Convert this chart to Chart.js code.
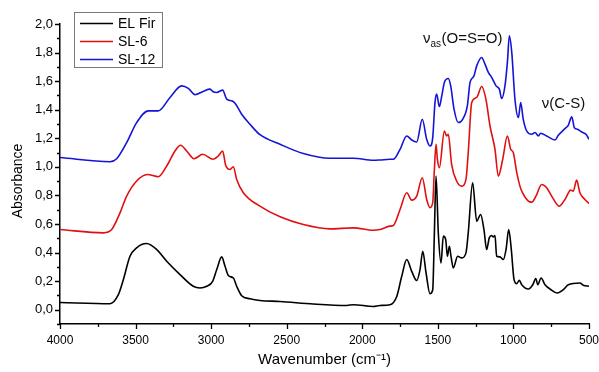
<!DOCTYPE html>
<html>
<head>
<meta charset="utf-8">
<script src="https://cdn.jsdelivr.net/npm/chart.js@4.4.1/dist/chart.umd.min.js"></script>
<style>
html,body{margin:0;padding:0;background:#fff;}
#wrap{width:599px;height:372px;position:relative;}
</style>
</head>
<body>
<div id="wrap"><canvas id="c" width="599" height="372"></canvas></div>
<script>
// ---- data (wavenumber in cm-1, absorbance) ----
const seriesNames = ['EL Fir', 'SL-6', 'SL-12'];

const elFirWn  = [4000,3669,3614,3581,3537,3493,3427,3360,3294,3206,3118,3074,3029,2990,2963,2930,2908,2886,2853,2831,2798,2743,2677,2544,2324,2103,2059,1927,1883,1817,1772,1739,1706,1673,1640,1618,1600,1578,1552,1534,1523,1512,1497,1479,1464,1448,1437,1424,1413,1398,1369,1342,1314,1299,1270,1243,1217,1195,1177,1160,1144,1133,1122,1111,1089,1067,1049,1031,1014,996,978,961,945,901,872,852,839,817,791,758,710,670,637,560,538,500];
const elFirAbs = [0.051,0.042,0.105,0.21,0.374,0.433,0.463,0.421,0.339,0.246,0.164,0.152,0.164,0.199,0.281,0.370,0.304,0.239,0.222,0.164,0.098,0.077,0.065,0.058,0.040,0.030,0.035,0.023,0.030,0.035,0.093,0.234,0.351,0.269,0.204,0.281,0.409,0.257,0.112,0.140,0.538,0.935,0.538,0.327,0.515,0.491,0.374,0.444,0.374,0.292,0.374,0.363,0.398,0.538,0.889,0.620,0.667,0.561,0.421,0.503,0.519,0.510,0.519,0.374,0.370,0.351,0.421,0.561,0.421,0.211,0.182,0.206,0.175,0.145,0.175,0.218,0.175,0.222,0.175,0.145,0.117,0.140,0.175,0.187,0.171,0.164];

const sl6Wn  = [4000,3713,3658,3603,3559,3493,3422,3350,3294,3239,3202,3162,3113,3056,2986,2953,2924,2904,2875,2853,2831,2787,2677,2544,2390,2214,2059,1927,1883,1817,1795,1750,1706,1673,1640,1603,1574,1552,1534,1523,1512,1503,1490,1457,1442,1431,1409,1376,1342,1314,1299,1276,1243,1210,1182,1155,1122,1100,1071,1040,1018,1001,978,957,945,901,879,851,813,780,747,697,659,621,604,582,560,527,500];
const sl6Abs = [0.561,0.538,0.561,0.678,0.795,0.901,0.947,0.931,1.006,1.111,1.151,1.111,1.057,1.088,1.053,1.076,1.111,1.011,0.982,1.001,0.912,0.819,0.725,0.650,0.596,0.566,0.573,0.556,0.561,0.585,0.589,0.702,0.819,0.767,0.795,0.924,0.772,0.714,0.749,0.982,1.158,1.053,0.994,1.251,1.216,1.228,1.018,0.901,0.865,0.912,1.100,1.450,1.486,1.563,1.474,1.286,1.123,0.935,1.053,1.216,1.123,1.100,0.959,0.865,0.830,0.760,0.753,0.795,0.877,0.854,0.795,0.725,0.772,0.837,0.830,0.907,0.819,0.772,0.744];

const sl12Wn  = [4000,3669,3625,3559,3493,3416,3350,3272,3195,3151,3107,3052,3008,2990,2963,2924,2897,2864,2842,2798,2743,2677,2544,2390,2214,2059,1927,1883,1817,1795,1750,1706,1673,1640,1603,1574,1552,1534,1519,1508,1490,1474,1457,1431,1415,1393,1365,1336,1305,1287,1261,1243,1210,1188,1166,1144,1115,1093,1078,1056,1040,1027,1011,990,967,952,935,912,879,857,835,820,780,725,703,659,637,614,597,577,548,520,500];
const sl12Abs = [1.065,1.036,1.057,1.170,1.310,1.392,1.392,1.486,1.567,1.549,1.505,1.528,1.544,1.528,1.521,1.537,1.474,1.462,1.446,1.368,1.298,1.225,1.158,1.093,1.060,1.060,1.046,1.048,1.053,1.053,1.123,1.216,1.188,1.174,1.333,1.193,1.146,1.205,1.450,1.509,1.422,1.497,1.591,1.619,1.567,1.404,1.310,1.333,1.427,1.591,1.637,1.707,1.766,1.719,1.661,1.626,1.567,1.544,1.478,1.567,1.731,1.918,1.801,1.474,1.345,1.450,1.333,1.251,1.228,1.240,1.216,1.235,1.216,1.188,1.221,1.268,1.291,1.350,1.275,1.263,1.244,1.228,1.193];

const xTickValues = [4000,3500,3000,2500,2000,1500,1000,500];
const yTickValues = [0.0,0.2,0.4,0.6,0.8,1.0,1.2,1.4,1.6,1.8,2.0];
const yTitle = 'Absorbance';
const xTitle = 'Wavenumber (cm⁻¹)';

// ---- build ----
const FONT = "'Liberation Sans', Arial, sans-serif";
const colors = ['#000000', '#e01010', '#1414d8'];
function pts(wn, ab){ return wn.map((w,i)=>({x:w, y:ab[i]})); }
const allData = [pts(elFirWn, elFirAbs), pts(sl6Wn, sl6Abs), pts(sl12Wn, sl12Abs)];

const isMajorX = v => xTickValues.some(t => Math.abs(t - v) < 1e-6);
const isMajorY = v => yTickValues.some(t => Math.abs(t - v) < 1e-6);

const tickMarks = {
  id: 'tickMarks',
  afterDraw(chart){
    const ctx = chart.ctx;
    const xs = chart.scales.x, ys = chart.scales.y;
    ctx.save();
    ctx.strokeStyle = '#000';
    ctx.lineWidth = 1.3;
    ctx.beginPath();
    xs.ticks.forEach(t => {
      const p = Math.round(xs.getPixelForValue(t.value)) + 0.5;
      const len = isMajorX(t.value) ? 5 : 3;
      ctx.moveTo(p, xs.top); ctx.lineTo(p, xs.top + len);
    });
    ys.ticks.forEach(t => {
      const p = Math.round(ys.getPixelForValue(t.value)) + 0.5;
      const len = isMajorY(t.value) ? 5 : 3;
      ctx.moveTo(ys.right, p); ctx.lineTo(ys.right - len, p);
    });
    ctx.stroke();
    // y axis title (slightly below the axis centre, as in the reference)
    ctx.translate(18, 181);
    ctx.rotate(-Math.PI / 2);
    ctx.fillStyle = '#000';
    ctx.font = "14px " + FONT;
    ctx.textAlign = 'center';
    ctx.textBaseline = 'middle';
    ctx.fillText(yTitle, 0, 0);
    ctx.restore();
  }
};

const legendBox = {
  id: 'legendBox',
  afterDraw(chart){
    const ctx = chart.ctx;
    ctx.save();
    ctx.fillStyle = '#fff';
    ctx.fillRect(74.5, 12.5, 88, 55);
    ctx.strokeStyle = '#7a7a7a';
    ctx.lineWidth = 1;
    ctx.strokeRect(74.5, 12.5, 88, 55);
    ctx.font = "14px " + FONT;
    ctx.textBaseline = 'middle';
    seriesNames.forEach((n, i) => {
      const y = 23.5 + i * 18;
      ctx.strokeStyle = colors[i];
      ctx.lineWidth = 1.6;
      ctx.beginPath(); ctx.moveTo(80, y); ctx.lineTo(113, y); ctx.stroke();
      ctx.fillStyle = '#000';
      ctx.fillText(n, 118, y + 0.5);
    });
    ctx.restore();
  }
};

const annotations = {
  id: 'annotations',
  afterDraw(chart){
    const ctx = chart.ctx;
    const xs = chart.scales.x, ys = chart.scales.y;
    ctx.save();
    ctx.fillStyle = '#111';
    ctx.textBaseline = 'alphabetic';
    // nu_as(O=S=O)
    let x = xs.getPixelForValue(1598), y = ys.getPixelForValue(1.87);
    ctx.font = "15px " + FONT;
    ctx.fillText('ν', x, y);
    let w = ctx.measureText('ν').width;
    ctx.font = "10px " + FONT;
    ctx.fillText('as', x + w, y + 4);
    let w2 = ctx.measureText('as').width;
    ctx.font = "15px " + FONT;
    ctx.fillText('(O=S=O)', x + w + w2 + 0.5, y);
    // nu(C-S)
    x = xs.getPixelForValue(812); y = ys.getPixelForValue(1.41);
    ctx.fillText('ν(C-S)', x, y);
    ctx.restore();
  }
};

new Chart(document.getElementById('c'), {
  type: 'line',
  data: {
    datasets: seriesNames.map((n, i) => ({
      label: n,
      data: allData[i],
      borderColor: colors[i],
      borderWidth: 1.6,
      pointRadius: 0,
      fill: false,
      cubicInterpolationMode: 'monotone'
    }))
  },
  options: {
    responsive: false,
    animation: false,
    layout: { padding: { left: 0, right: 10, top: 24, bottom: 0 } },
    plugins: { legend: { display: false }, tooltip: { enabled: false } },
    scales: {
      x: {
        type: 'linear', reverse: true, min: 500, max: 4000,
        afterFit: s => { s.height = 48; s.paddingLeft = 0; s.paddingRight = 0; },
        grid: { display: false, drawTicks: false },
        border: { display: true, color: '#000', width: 1.5 },
        ticks: {
          stepSize: 250, autoSkip: false, maxRotation: 0, padding: 9,
          color: '#000', font: { family: FONT, size: 12 },
          callback: v => isMajorX(v) ? String(v) : ''
        },
        title: { display: true, text: xTitle, color: '#000',
                 font: { family: FONT, size: 15 }, padding: { top: 0, bottom: 3 } }
      },
      y: {
        type: 'linear', min: -0.1, max: 2.0,
        afterFit: s => { s.width = 60; s.paddingTop = 0; s.paddingBottom = 0; },
        grid: { display: false, drawTicks: false },
        border: { display: true, color: '#000', width: 1.5 },
        ticks: {
          stepSize: 0.1, autoSkip: false, padding: 7,
          color: '#000', font: { family: FONT, size: 13 },
          callback: v => isMajorY(v) ? v.toFixed(1).replace('.', ',') : ''
        },
        title: { display: false }
      }
    }
  },
  plugins: [tickMarks, legendBox, annotations]
});
</script>
</body>
</html>
